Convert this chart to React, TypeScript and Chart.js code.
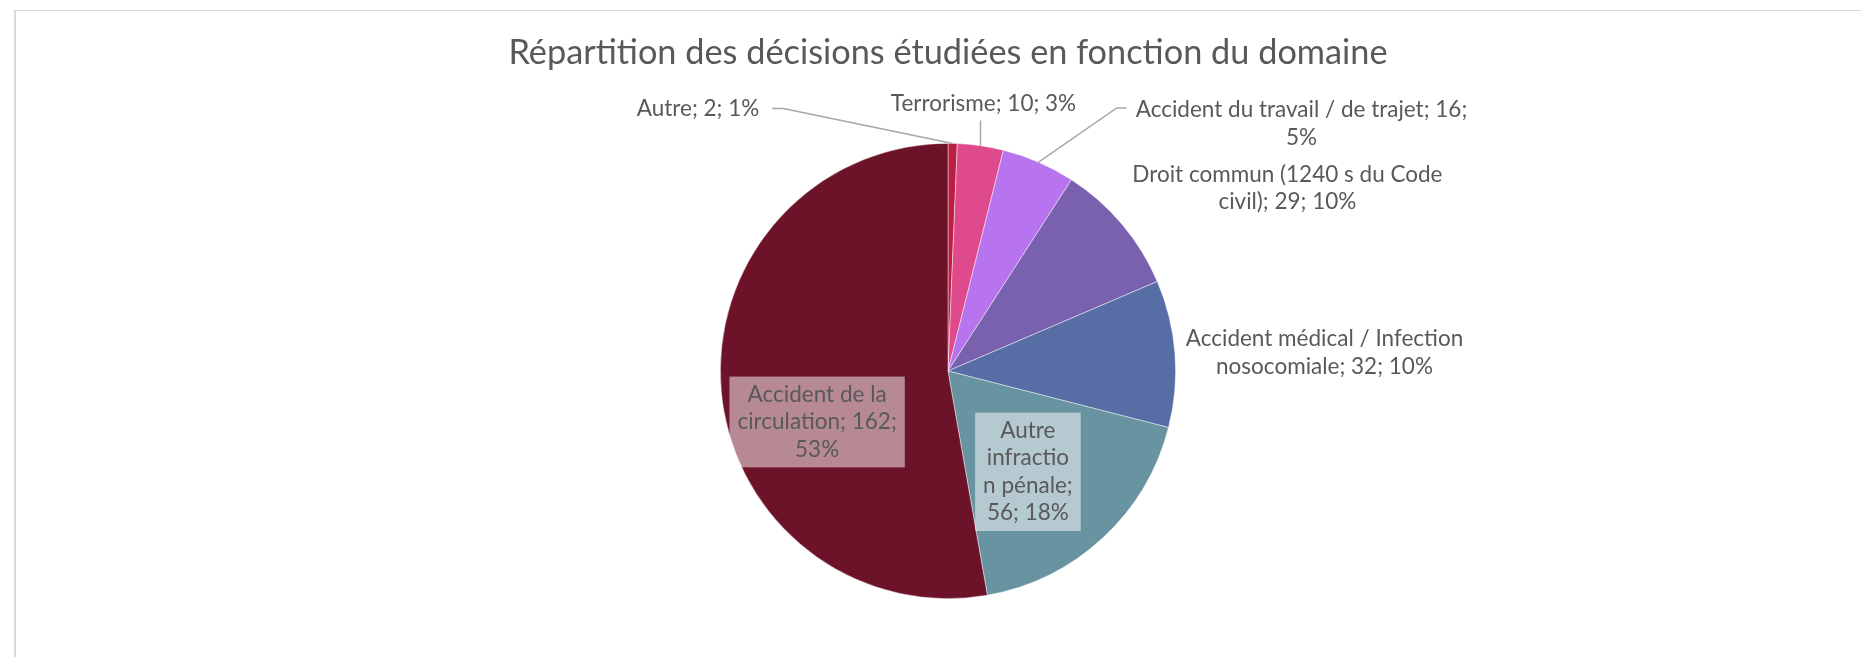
import React, { useEffect, useRef } from 'react';
import { Chart, registerables } from 'chart.js';

Chart.register(...registerables);

const chartTitle = 'Répartition des décisions étudiées en fonction du domaine';
const categories = [
  'Autre',
  'Terrorisme',
  'Accident du travail / de trajet',
  'Droit commun (1240 s du Code civil)',
  'Accident médical / Infection nosocomiale',
  'Autre infraction pénale',
  'Accident de la circulation',
];
const counts = [2, 10, 16, 29, 32, 56, 162];
const percentLabels = ['1%', '3%', '5%', '10%', '10%', '18%', '53%'];
const sliceColors = ['#BA1E40', '#DF4A8D', '#B873EE', '#7961AF', '#566DA6', '#6893A0', '#6C1329'];
// Wrapped data-label text, as it appears in the chart
const labelLines = [
  ['Autre; 2; 1%'],
  ['Terrorisme; 10; 3%'],
  ['Accident du travail / de trajet; 16;', '5%'],
  ['Droit commun (1240 s du Code', 'civil); 29; 10%'],
  ['Accident médical / Infection', 'nosocomiale; 32; 10%'],
  ['Autre', 'infractio', 'n pénale;', '56; 18%'],
  ['Accident de la', 'circulation; 162;', '53%'],
];

// Label placement relative to the pie centre, in units of the pie radius
const labelLayout: any[] = [
  { dx: -0.829, dy: -1.1535, align: 'right', leader: 'elbowLeft' },
  { dx: 0.156, dy: -1.175, align: 'center', leader: 'vertical' },
  { dx: 1.553, dy: -1.086, align: 'center', leader: 'elbowRight' },
  { dx: 1.491, dy: -0.803, align: 'center' },
  { dx: 1.654, dy: -0.081, align: 'center' },
  { dx: 0.351, dy: 0.443, align: 'center', box: true },
  { dx: -0.575, dy: 0.224, align: 'center', box: true },
];

const FONT = 'Lato, "Open Sans", sans-serif';
const LABEL_SIZE = 22.5;
const LINE_H = 27.6;
const TEXT_COLOR = '#595959';

const labelPlugin = {
  id: 'excelLabels',
  afterDatasetsDraw(chart: any) {
    const ctx = chart.ctx;
    const meta = chart.getDatasetMeta(0);
    ctx.save();
    // title
    const first = meta.data[0];
    ctx.font = `34.3px ${FONT}`;
    ctx.fillStyle = TEXT_COLOR;
    ctx.textAlign = 'center';
    ctx.textBaseline = 'middle';
    ctx.fillText(chartTitle, first.x, 53);

    ctx.font = `${LABEL_SIZE}px ${FONT}`;
    meta.data.forEach((arc: any, i: number) => {
      const lay = labelLayout[i];
      const lines = labelLines[i];
      const cx = arc.x, cy = arc.y, R = arc.outerRadius;
      const mid = (arc.startAngle + arc.endAngle) / 2;
      const ax = cx + R * Math.cos(mid);
      const ay = cy + R * Math.sin(mid);
      const lx = cx + lay.dx * R;
      const ly = cy + lay.dy * R;
      const widths = lines.map((l: string) => ctx.measureText(l).width);
      const maxW = Math.max(...widths);
      const blockH = lines.length * LINE_H;
      const top = ly - blockH / 2;

      // leader lines
      ctx.strokeStyle = '#A6A6A6';
      ctx.lineWidth = 1.5;
      if (lay.leader === 'elbowLeft') {
        ctx.beginPath();
        ctx.moveTo(lx + 13, ly);
        ctx.lineTo(lx + 24, ly);
        ctx.lineTo(ax, ay);
        ctx.stroke();
      } else if (lay.leader === 'vertical') {
        ctx.beginPath();
        ctx.moveTo(ax, ly + 17);
        ctx.lineTo(ax, ay);
        ctx.stroke();
      } else if (lay.leader === 'elbowRight') {
        const left = lx - maxW / 2;
        const y1 = top + LINE_H / 2 - 2;
        ctx.beginPath();
        ctx.moveTo(ax, ay);
        ctx.lineTo(left - 19, y1);
        ctx.lineTo(left - 9, y1);
        ctx.stroke();
      }

      if (lay.box) {
        const padX = 8, padY = 4;
        ctx.fillStyle = 'rgba(255,255,255,0.5)';
        ctx.fillRect(lx - maxW / 2 - padX, top - padY, maxW + 2 * padX, blockH + 2 * padY);
      }

      ctx.fillStyle = TEXT_COLOR;
      ctx.textAlign = lay.align;
      ctx.textBaseline = 'middle';
      lines.forEach((l: string, k: number) => {
        ctx.fillText(l, lx, top + LINE_H / 2 + k * LINE_H);
      });
    });
    ctx.restore();
  },
};

export default function App() {
  const ref = useRef<HTMLCanvasElement>(null);
  useEffect(() => {
    if (!ref.current) return;
    const chart = new Chart(ref.current, {
      type: 'pie',
      data: {
        labels: categories,
        datasets: [
          {
            data: counts,
            backgroundColor: sliceColors,
            borderColor: 'rgba(255,255,255,0.6)',
            borderWidth: 0.75,
          },
        ],
      },
      options: {
        animation: false,
        responsive: false,
        maintainAspectRatio: false,
        devicePixelRatio: 1,
        layout: { padding: { left: 720, right: 685, top: 143, bottom: 58 } },
        plugins: {
          legend: { display: false },
          tooltip: { enabled: false },
          title: { display: false },
        },
      },
      plugins: [labelPlugin],
    });
    return () => chart.destroy();
  }, []);

  return (
    <div style={{ position: 'fixed', left: 0, top: 0, width: '100vw', height: '100vh', overflow: 'hidden', background: '#ffffff' }}>
      <div
        style={{
          position: 'absolute',
          left: 14,
          top: 10,
          width: 3000,
          height: 3000,
          borderLeft: '2px solid #D9D9D9',
          borderTop: '1.5px solid #D9D9D9',
        }}
      />
      <canvas ref={ref} width={1861} height={657} style={{ position: 'absolute', left: 0, top: 0, width: 1861, height: 657 }} />
    </div>
  );
}
